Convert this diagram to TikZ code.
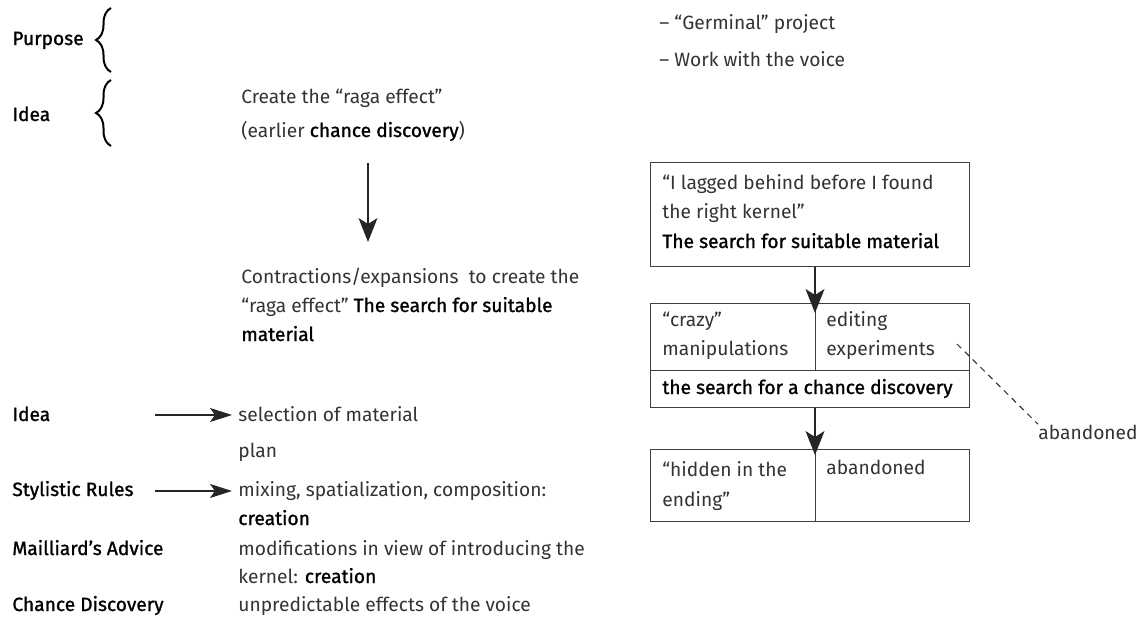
\documentclass[tikz,border=0pt]{standalone}
\usepackage{fontspec}
\setmainfont{Fira Sans}[BoldFont={Fira Sans}, BoldFeatures={FakeBold=1.2}]
\usepackage{tikz}
\usetikzlibrary{arrows.meta}
\usetikzlibrary{decorations.pathreplacing}
\usepackage{xcolor}

\tikzset{
  txt/.style={anchor=base west, inner sep=0pt, text=black!80},
  bx/.style={draw=black!75, line width=0.5pt, inner sep=0pt},
  arr/.style={draw=black!85, line width=0.6pt, -{Stealth[length=12pt, width=9.5pt, inset=3pt]}},
  sarr/.style={draw=black!85, line width=0.6pt, -{Stealth[length=11pt, width=7pt, inset=2.5pt]}},
  brc/.style={draw=black, line width=1pt, decorate, decoration={brace, amplitude=7.5pt, aspect=0.5}}
}
\newcommand{\md}[1]{\textcolor{black}{\textbf{#1}}}

\begin{document}
\begin{tikzpicture}[x=0.5pt, y=-0.5pt, font=\fontsize{9.6}{15}\selectfont]
      \useasboundingbox (0,0) rectangle (1142,637);

      %braces at the top
      \node[txt] (purpose) at (12,45) {\md{Purpose}};
      \draw[brc] (111,72) -- (111,8);
      \node[txt] (idea) at (12,121) {\md{Idea}};
      \draw[brc] (111,146) -- (111,80);

      \node[txt] (germinal) at (659,29) {– “Germinal” project};
      \node[txt] (voice) at (659,66) {– Work with the voice};

      %raga effect
      \node[txt] (create) at (241,104) {Create the “raga effect”};
      \node[txt] (earlier) at (241,137) {(earlier \md{chance discovery})};
      \coordinate (down1) at (368,163);
      \coordinate (down2) at (368,242);
      \draw[arr] (down1) -- (down2);
      \node[txt] (contr) at (241,283) {Contractions/expansions\ \ to create the};
      \node[txt] (raga) at (241,312) {“raga effect” \md{The search for suitable}};
      \node[txt] (mat) at (241,341) {\md{material}};

%        boxes
      \node[bx, minimum width=159.5pt, minimum height=52pt] (box1) at (809.5,214) {};
      \node[txt] (lag1) at (662,189) {“I lagged behind before I found};
      \node[txt] (lag2) at (662,218) {the right kernel”};
      \node[txt] (suit) at (662,248) {\md{The search for suitable material}};

      \node[bx, minimum width=159.5pt, minimum height=52pt] (box2) at (809.5,355) {};
      \coordinate (mid2) at (650,370);
      \coordinate (mid2r) at (969,370);
      \coordinate (div2) at (815,303);
      \draw[bx] (mid2) -- (mid2r);
      \draw[bx] (div2) -- (div2 |- mid2);
      \node[txt] (crazy) at (662,326) {“crazy”};
      \node[txt] (manip) at (662,355) {manipulations};
      \node[txt] (edit) at (826,326) {editing};
      \node[txt] (exper) at (826,355) {experiments};
      \node[txt] (chance) at (662,394) {\md{the search for a chance discovery}};

      \node[bx, minimum width=159.5pt, minimum height=36pt] (box3) at (809.5,485) {};
      \coordinate (div3) at (815,449);
      \draw[bx] (div3) -- (div3 |- box3.south);
      \node[txt] (hid1) at (662,476) {“hidden in the};
      \node[txt] (hid2) at (662,506) {ending”};
      \node[txt] (aband) at (826,474) {abandoned};

      \draw[arr, shorten >=-5pt] (div2 |- box1.south) -- (div2);
      \draw[arr, shorten >=-3pt] (div3 |- box2.south) -- (div3);

      %abandoned
      \node[txt] (aband2) at (1038,439) {abandoned};
      \coordinate (dash1) at (957,344);
      \draw[black!85, line width=0.5pt, dash pattern=on 3pt off 2.5pt] (dash1) -- (aband2.north west);

      %lower list
      \node[txt] (idea2) at (12,421) {\md{Idea}};
      \node[txt] (sel) at (238,421) {selection of material};
      \node[txt] (plan) at (238,457) {plan};
      \node[txt] (rules) at (12,496) {\md{Stylistic Rules}};
      \node[txt] (mix) at (238,496) {mixing, spatialization, composition:};
      \node[txt] (creat1) at (238,525) {\md{creation}};
      \node[txt] (mail) at (12,555) {\md{Mailliard’s Advice}};
      \node[txt] (modif) at (238,555) {modifications in view of introducing the};
      \node[txt] (kern) at (238,583) {kernel: \md{creation}};
      \node[txt] (chdisc) at (12,611) {\md{Chance Discovery}};
      \node[txt] (unpred) at (238,611) {unpredictable effects of the voice};
      \coordinate (ia) at (155,415);
      \coordinate (ra) at (155,491);
      \draw[sarr] (ia) -- ([xshift=-3pt]sel.west |- ia);
      \draw[sarr] (ra) -- ([xshift=-3pt]mix.west |- ra);
  \end{tikzpicture}
\end{document}
